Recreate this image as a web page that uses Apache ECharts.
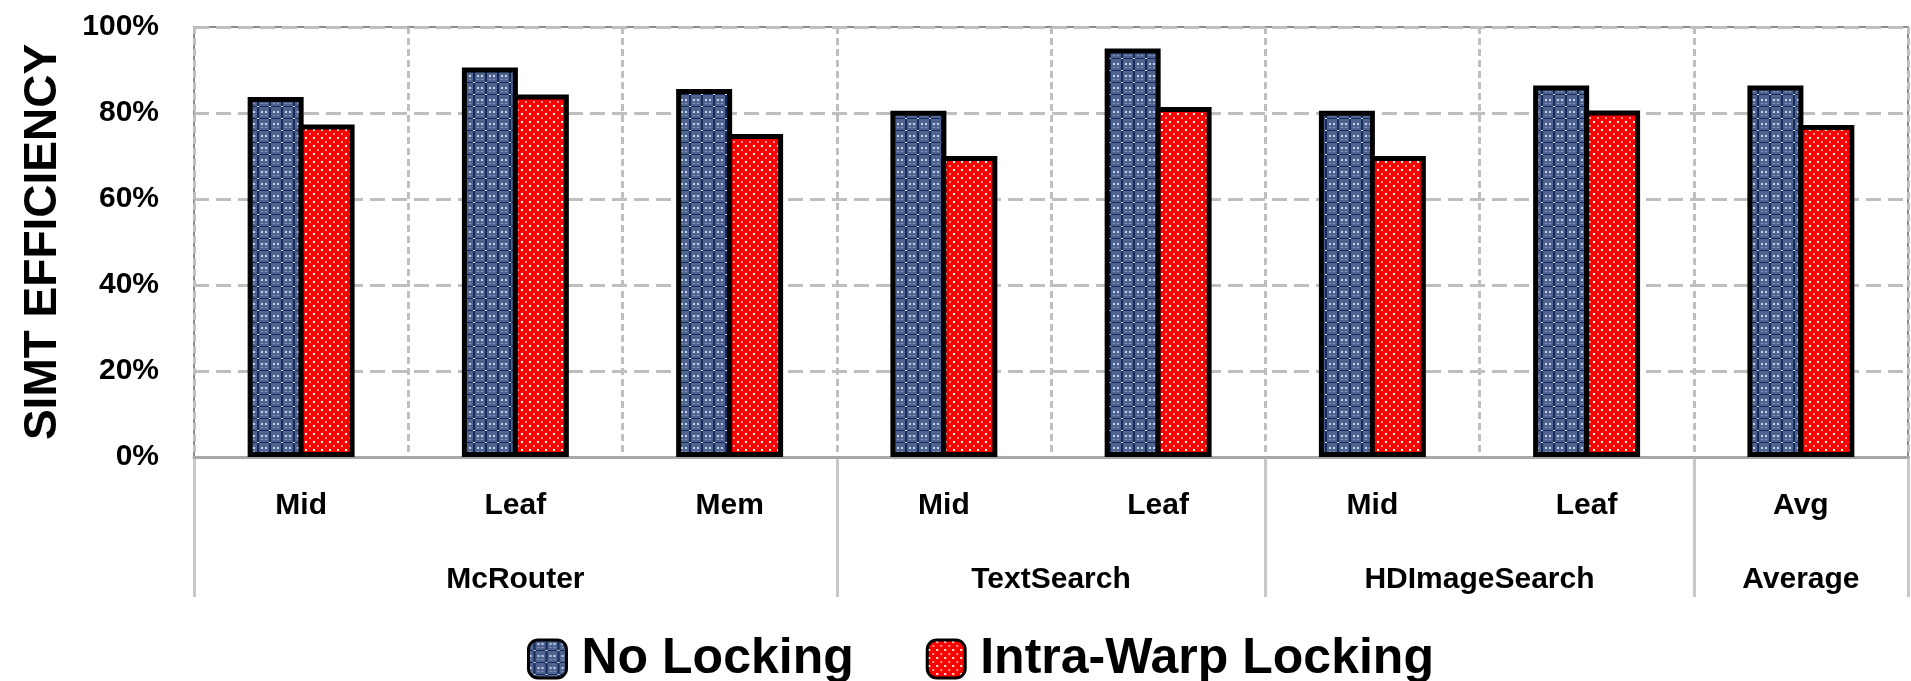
<!DOCTYPE html>
<html>
<head>
<meta charset="utf-8">
<script src="https://cdn.jsdelivr.net/npm/echarts@6/dist/echarts.min.js"></script>
<style>
  html, body { margin: 0; padding: 0; background: #fff; }
  #simtChart { width: 1911px; height: 681px; }
</style>
</head>
<body>
<div id="simtChart"></div>
<script>
// sub-benchmark names (lower axis row)
var subCategories = ['Mid', 'Leaf', 'Mem', 'Mid', 'Leaf', 'Mid', 'Leaf', 'Avg']
// workload groups and how many bar-pairs each one spans
var groupNames = ['McRouter', 'TextSearch', 'HDImageSearch', 'Average']
var groupSpans = [3, 2, 2, 1]
// SIMT efficiency in %
var noLocking = [83.7, 90.6, 85.6, 80.5, 95, 80.5, 86.4, 86.4]
var intraWarpLocking = [77.3, 84.3, 75.1, 70, 81.4, 70, 80.6, 77.2]
var yTicks = [0, 20, 40, 60, 80, 100]

// small canvas tiles to fake the excel fill patterns
function makeTile(size, draw){
    var c = document.createElement('canvas')
    c.width = size
    c.height = size
    draw(c.getContext('2d'))
    return c
}
var blueTile = makeTile(12, function(ctx){
    ctx.fillStyle = '#4f6490'
    ctx.fillRect(0, 0, 12, 12)
    ctx.fillStyle = '#142a58'
    ctx.fillRect(5, 0, 2, 12)
    ctx.fillRect(0, 10, 12, 1)
    ctx.fillStyle = '#c9d1e2'
    ctx.fillRect(1, 3, 2, 2)
    ctx.fillRect(9, 3, 2, 2)
    ctx.fillStyle = '#eef1f7'
    ctx.fillRect(5, 10, 2, 1)
    ctx.fillStyle = '#8796b6'
    ctx.fillRect(1, 7, 2, 1)
    ctx.fillRect(9, 7, 2, 1)
})
var redTile = makeTile(8, function(ctx){
    ctx.fillStyle = '#ff0000'
    ctx.fillRect(0, 0, 8, 8)
    ctx.fillStyle = '#ffffff'
    ctx.fillRect(1, 1, 2, 2)
    ctx.fillStyle = '#ff9a9a'
    ctx.fillRect(5, 5, 2, 2)
})

// group axis works in half-category steps: boundaries + label anchors
var halfCount = subCategories.length * 2
var groupAxisData = []
var groupBounds = [0]
var groupLabelAt = {}
var pos = 0
for (var g = 0; g < groupSpans.length; g++) {
    groupLabelAt[pos + groupSpans[g]] = groupNames[g]
    pos += groupSpans[g] * 2
    groupBounds.push(pos)
}
for (var i = 0; i <= halfCount; i++) {
    groupAxisData.push(groupLabelAt[i] || '')
}

var labelFont = 'Liberation Sans, Arial, sans-serif'

var chart = echarts.init(document.getElementById('simtChart'))
var option = {
    animation: false,
    grid: {
        left: 194,
        right: 1,
        top: 27,
        bottom: 224,
        show: true,
        borderColor: '#8c8c8c',
        borderWidth: 2,
        backgroundColor: '#fff'
    },
    legend: {
        left: 527,
        top: 634,
        padding: 0,
        itemWidth: 38,
        itemHeight: 38,
        itemGap: 72,
        itemStyle: { borderWidth: 3, borderColor: '#000' },
        textStyle: {
            fontSize: 50,
            fontWeight: 'bold',
            color: '#000',
            fontFamily: labelFont,
            padding: [0, 0, 0, 10]
        },
        data: ['No Locking', 'Intra-Warp Locking']
    },
    xAxis: [
        {
            type: 'category',
            data: subCategories,
            axisLine: { lineStyle: { color: '#a8a8a8', width: 3 } },
            axisTick: { show: false },
            axisLabel: {
                interval: 0,
                margin: 34,
                fontSize: 30,
                fontWeight: 'bold',
                color: '#000',
                fontFamily: labelFont
            },
            splitLine: {
                show: true,
                interval: 0,
                lineStyle: { color: '#bfbfbf', width: 3, type: [7, 4] }
            },
            z: 3
        },
        {
            type: 'category',
            data: groupAxisData,
            boundaryGap: false,
            position: 'bottom',
            axisLine: { show: false },
            axisTick: {
                show: true,
                length: 140,
                interval: function(idx){ return groupBounds.indexOf(idx) >= 0 },
                lineStyle: { color: '#c8c8c8', width: 3 }
            },
            axisLabel: {
                interval: 0,
                margin: 108,
                fontSize: 30,
                fontWeight: 'bold',
                color: '#000',
                fontFamily: labelFont
            },
            splitLine: { show: false }
        }
    ],
    yAxis: {
        type: 'value',
        min: yTicks[0],
        max: yTicks[yTicks.length - 1],
        interval: yTicks[1] - yTicks[0],
        name: 'SIMT EFFICIENCY',
        nameLocation: 'middle',
        nameGap: 128,
        nameTextStyle: {
            fontSize: 46,
            fontWeight: 'bold',
            color: '#000',
            fontFamily: labelFont
        },
        axisLine: { show: false },
        axisTick: { show: false },
        axisLabel: {
            margin: 35,
            fontSize: 30,
            fontWeight: 'bold',
            color: '#000',
            fontFamily: labelFont,
            formatter: '{value}%'
        },
        splitLine: {
            show: true,
            lineStyle: { color: '#bfbfbf', width: 3, type: [15, 7] }
        }
    },
    series: [
        {
            name: 'No Locking',
            type: 'bar',
            xAxisIndex: 0,
            barWidth: 56,
            barGap: '-9%',
            itemStyle: {
                color: { image: blueTile, repeat: 'repeat' },
                borderColor: '#000',
                borderWidth: 5
            },
            data: noLocking,
            z: 4
        },
        {
            name: 'Intra-Warp Locking',
            type: 'bar',
            xAxisIndex: 0,
            barWidth: 56,
            barGap: '-9%',
            itemStyle: {
                color: { image: redTile, repeat: 'repeat' },
                borderColor: '#000',
                borderWidth: 5
            },
            data: intraWarpLocking,
            z: 4
        }
    ]
}
chart.setOption(option, true)
</script>
</body>
</html>
